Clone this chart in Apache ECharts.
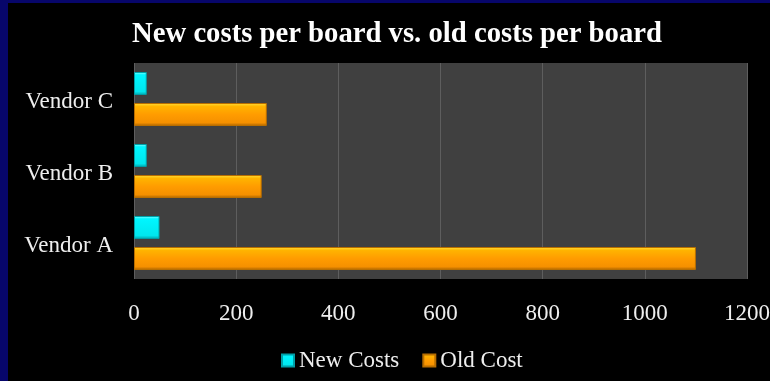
<!DOCTYPE html>
<html>
<head>
<meta charset="utf-8">
<style>
  html, body { margin: 0; padding: 0; background: #000; }
  #chart { width: 770px; height: 381px; }
</style>
<script src="https://cdn.jsdelivr.net/npm/echarts@6/dist/echarts.min.js"></script>
</head>
<body>
<div id="chart"></div>
<script>
// Cost per board by vendor
const vendors = ['Vendor A', 'Vendor B', 'Vendor C'];
const newCosts = [50, 25, 25];
const oldCosts = [1100, 250, 260];
const xTicks = [0, 200, 400, 600, 800, 1000, 1200];

const serif = '"Liberation Serif", "Times New Roman", serif';

const cyanFill = new echarts.graphic.LinearGradient(0, 0, 0, 1, [
  { offset: 0, color: '#9ffcff' },
  { offset: 0.12, color: '#00f6ff' },
  { offset: 0.85, color: '#00e6ee' },
  { offset: 1, color: '#00a6ad' }
]);
const orangeFill = new echarts.graphic.LinearGradient(0, 0, 0, 1, [
  { offset: 0, color: '#ffe640' },
  { offset: 0.14, color: '#ffb400' },
  { offset: 0.5, color: '#ff9c00' },
  { offset: 0.86, color: '#f59000' },
  { offset: 1, color: '#a86200' }
]);

const chart = echarts.init(document.getElementById('chart'));
chart.setOption({
  backgroundColor: '#000',
  animation: false,
  graphic: [
    { type: 'rect', left: 0, top: 0, shape: { width: 8, height: 381 }, style: { fill: '#07066a' }, z: 100 },
    { type: 'rect', left: 0, top: 0, shape: { width: 770, height: 3 }, style: { fill: '#07066a' }, z: 100 }
  ],
  title: {
    text: 'New costs per board vs. old costs per board',
    left: 392,
    textAlign: 'center',
    top: 15,
    textStyle: { color: '#fff', fontFamily: serif, fontWeight: 'bold', fontSize: 28.7 }
  },
  legend: {
    data: ['New Costs', 'Old Cost'],
    left: 276,
    top: 344,
    icon: 'rect',
    itemWidth: 12,
    itemHeight: 12,
    itemGap: 23,
    textStyle: { color: '#eee', fontFamily: serif, fontSize: 23 }
  },
  grid: {
    left: 134, right: 23, top: 63, bottom: 102,
    outerBoundsMode: 'none',
    containLabel: false,
    show: true, backgroundColor: '#404040', borderWidth: 0
  },
  xAxis: {
    type: 'value',
    min: xTicks[0],
    max: xTicks[xTicks.length - 1],
    interval: xTicks[1] - xTicks[0],
    axisLine: { show: false },
    axisTick: { show: false },
    splitLine: { show: true, lineStyle: { color: '#5e5e5e', width: 1 } },
    axisLabel: { color: '#eee', fontFamily: serif, fontSize: 23, margin: 23, formatter: v => String(v) }
  },
  yAxis: {
    type: 'category',
    data: vendors,
    axisLine: { show: false },
    axisTick: { show: false },
    axisLabel: { color: '#eee', fontFamily: serif, fontSize: 23, margin: 21, lineHeight: 30, verticalAlign: 'top', padding: [-12, 0, 0, 0] }
  },
  series: [
    {
      name: 'New Costs',
      type: 'bar',
      data: newCosts,
      barCategoryGap: '25%',
      barGap: '35%',
      itemStyle: { color: cyanFill, borderColor: '#00a0a8', borderWidth: 1 }
    },
    {
      name: 'Old Cost',
      type: 'bar',
      data: oldCosts,
      itemStyle: { color: orangeFill, borderColor: '#b86e00', borderWidth: 1 }
    }
  ]
});
</script>
</body>
</html>
